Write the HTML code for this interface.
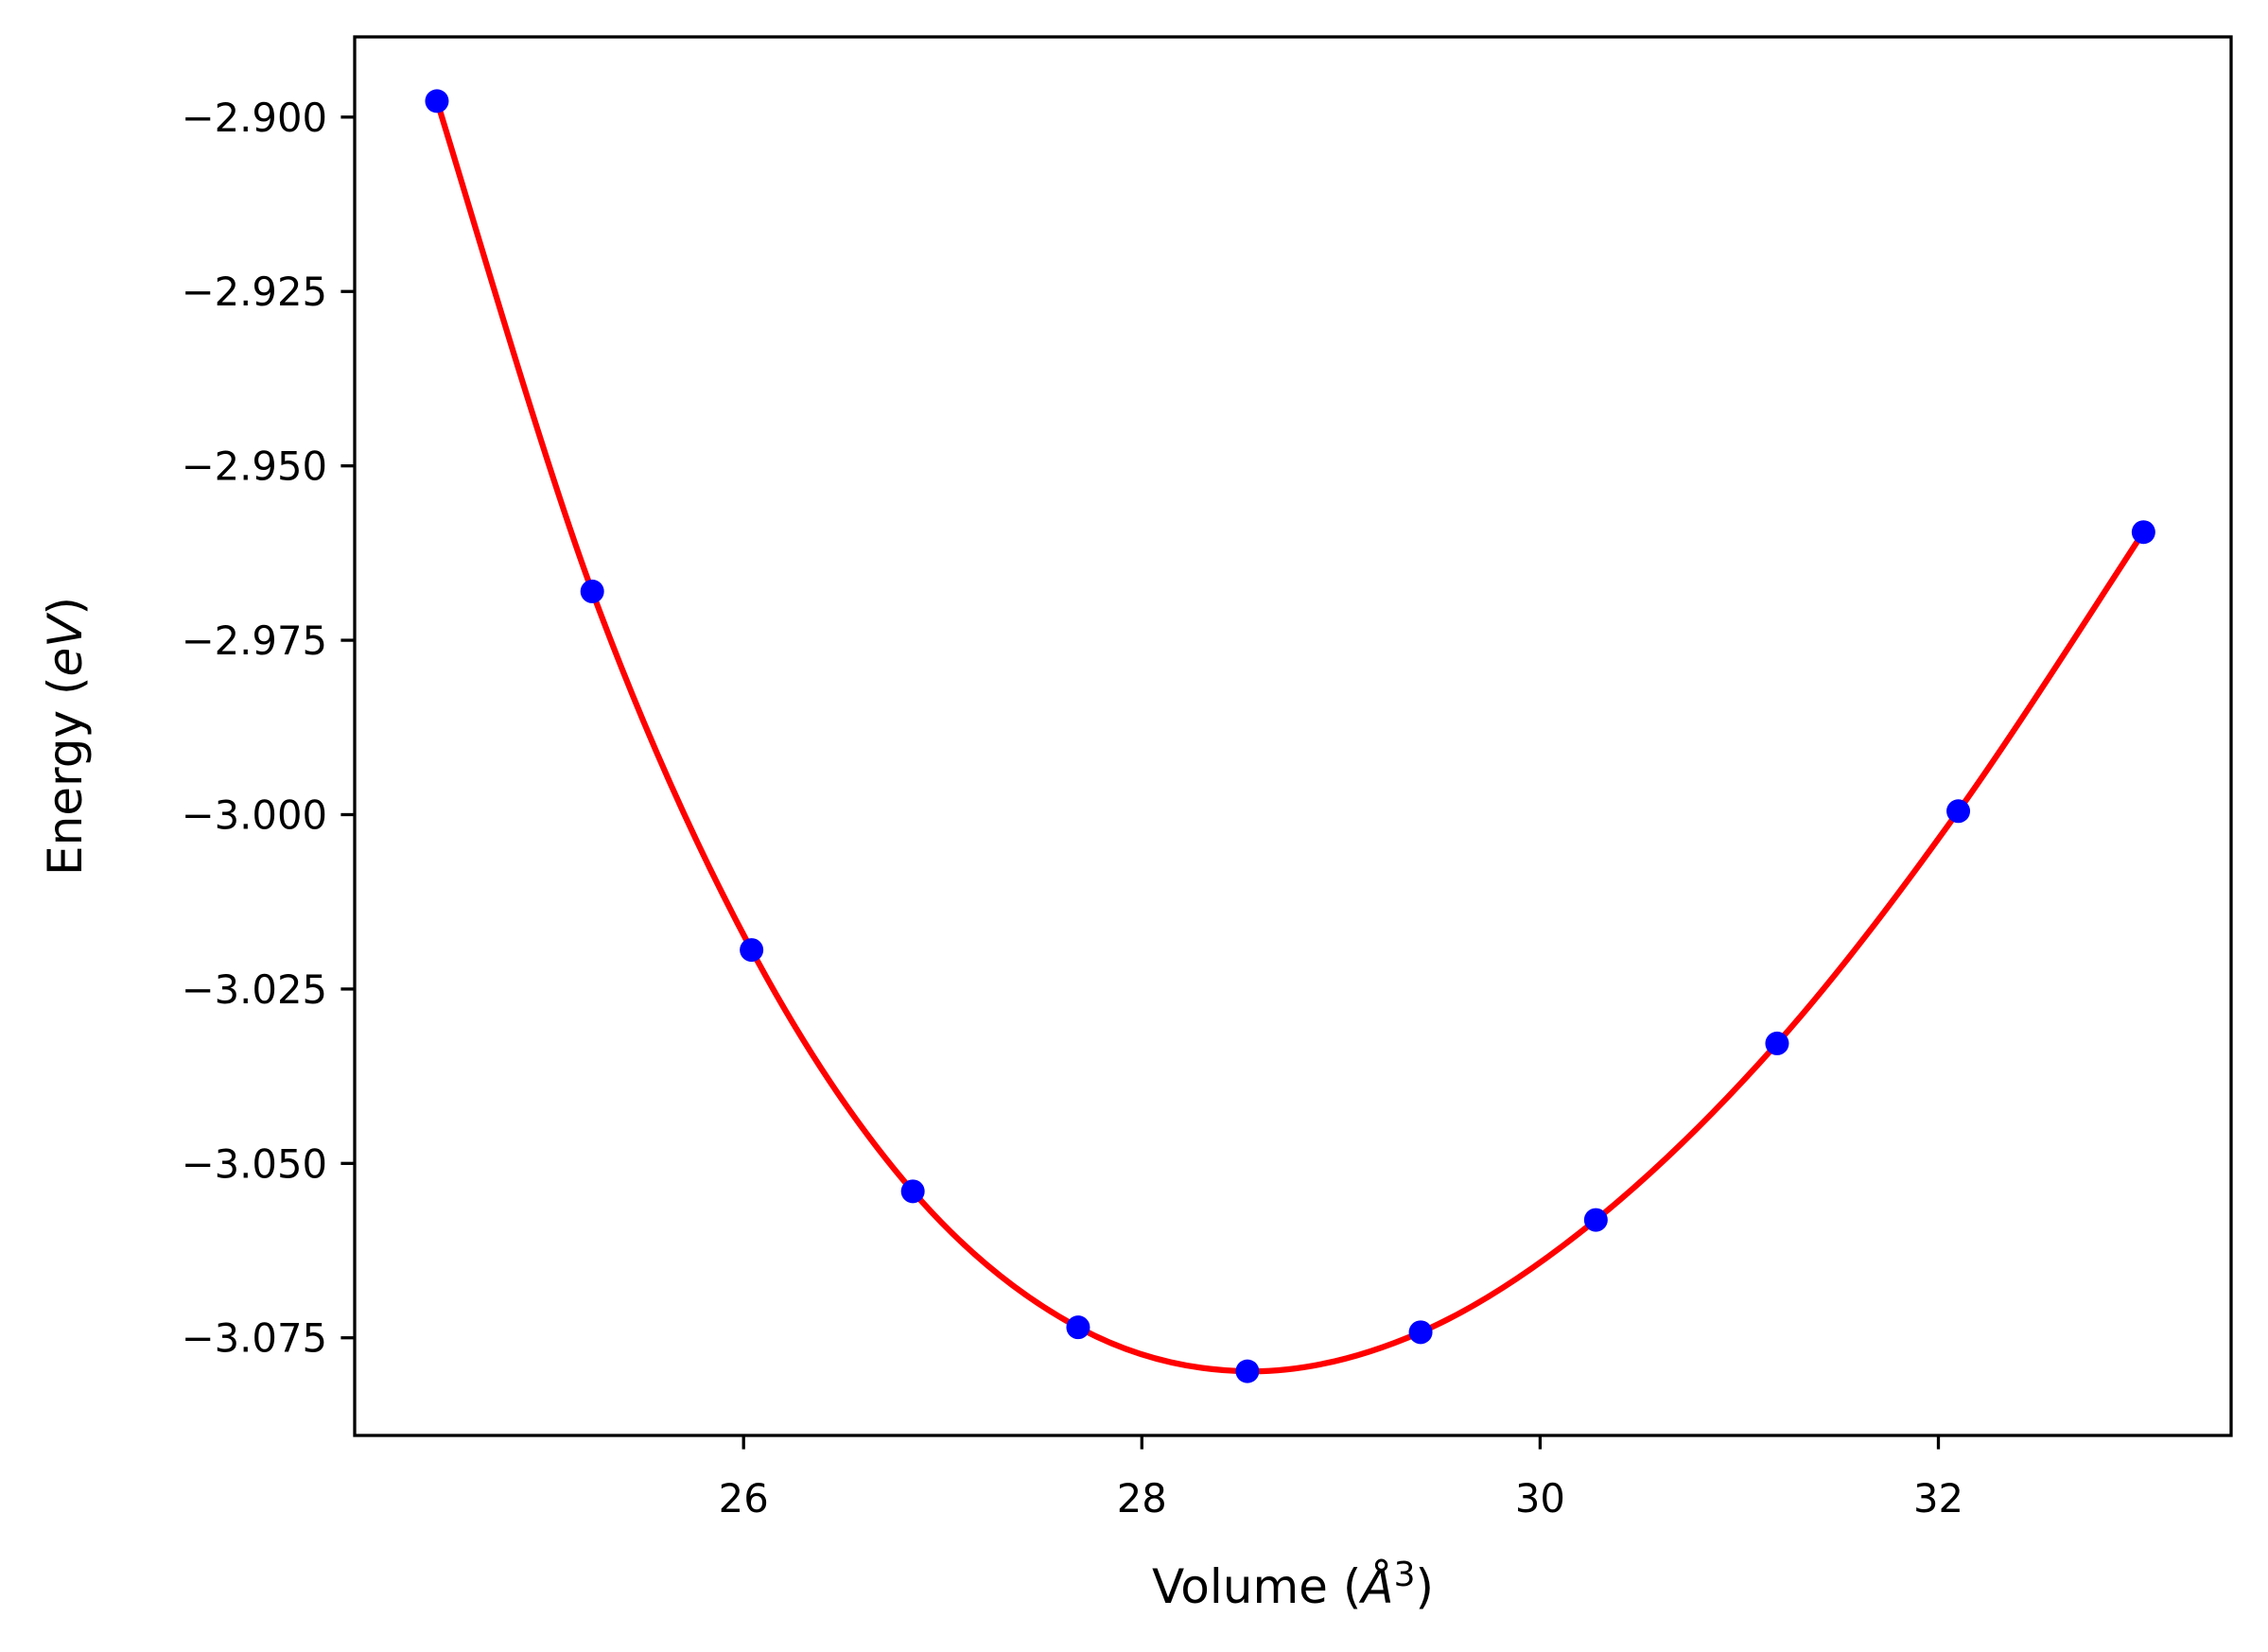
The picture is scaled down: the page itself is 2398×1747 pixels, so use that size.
<!DOCTYPE html>
<html><head><meta charset="utf-8"><style>body{margin:0;background:#fff}svg{display:block}</style></head>
<body>
<svg id="chart" width="2398" height="1747" xmlns="http://www.w3.org/2000/svg" font-family="DejaVu Sans, Liberation Sans, sans-serif">
<rect x="0" y="0" width="2398" height="1747" fill="#fff"/>
<g id="plot"></g>
</svg>
<script>
const volumes = [24.46, 25.24, 26.04, 26.85, 27.68, 28.53, 29.40, 30.28, 31.19, 32.10, 33.03];
const energies = [-2.8977, -2.968, -3.0194, -3.054, -3.0735, -3.0798, -3.0742, -3.0581, -3.0328, -2.9995, -2.9595];
const xTicks = [26, 28, 30, 32];
const yTicks = [-2.900, -2.925, -2.950, -2.975, -3.000, -3.025, -3.050, -3.075];

const L=375, R=2359, T=39, B=1518;
const xMin=24.047, xMax=33.47, yMin=-3.089, yMax=-2.8885;
const sx = v => L + (v-xMin)/(xMax-xMin)*(R-L);
const sy = v => B - (v-yMin)/(yMax-yMin)*(B-T);
const NS='http://www.w3.org/2000/svg';
const g=document.getElementById('plot');
function mk(tag, attrs){const e=document.createElementNS(NS,tag);for(const k in attrs)e.setAttribute(k,attrs[k]);g.appendChild(e);return e;}

// curve: Catmull-Rom spline through data points
let d='M'+sx(volumes[0])+','+sy(energies[0]);
const P=volumes.map((v,i)=>[sx(v),sy(energies[i])]);
for(let i=0;i<P.length-1;i++){
  const p0=P[Math.max(0,i-1)],p1=P[i],p2=P[i+1],p3=P[Math.min(P.length-1,i+2)];
  const c1=[p1[0]+(p2[0]-p0[0])/6,p1[1]+(p2[1]-p0[1])/6];
  const c2=[p2[0]-(p3[0]-p1[0])/6,p2[1]-(p3[1]-p1[1])/6];
  d+=' C'+c1+' '+c2+' '+p2;
}
const curve=mk('path',{d:d,fill:'none',stroke:'#ff0000','stroke-width':6.25});



volumes.forEach((v,i)=>{
  const c=mk('circle',{cx:sx(v),cy:sy(energies[i]),r:12.5,fill:'#0000ff'});
  
  
});

const frame=mk('rect',{x:L,y:T,width:R-L,height:B-T,fill:'none',stroke:'#000','stroke-width':3.3});



xTicks.forEach(t=>{
  const x=sx(t);
  const tk=mk('line',{x1:x,x2:x,y1:B,y2:B+14.6,stroke:'#000','stroke-width':3.3});
  
  
  const tx=mk('text',{x:x,y:1599,'font-size':41.7,'text-anchor':'middle',fill:'#000'});
  tx.textContent=String(t);
  
  
});
yTicks.forEach(t=>{
  const y=sy(t);
  const tk=mk('line',{x1:L-14.6,x2:L,y1:y,y2:y,stroke:'#000','stroke-width':3.3});
  
  
  const tx=mk('text',{x:346,y:y+15,'font-size':41.7,'text-anchor':'end',fill:'#000'});
  tx.textContent='\u2212'+Math.abs(t).toFixed(3);
  
  
});

const xl=mk('text',{x:(L+R)/2,y:1695,'font-size':50,'text-anchor':'middle',fill:'#000'});
xl.innerHTML='Volume (<tspan font-style="italic">Å</tspan><tspan dy="-18" font-size="36">3</tspan><tspan dy="18">)</tspan>';



const yl=mk('text',{x:0,y:0,'font-size':50,'text-anchor':'middle',fill:'#000',transform:'translate(86,'+((T+B)/2)+') rotate(-90)'});
yl.innerHTML='Energy (<tspan font-style="italic">eV</tspan>)';


</script>
</body></html>
